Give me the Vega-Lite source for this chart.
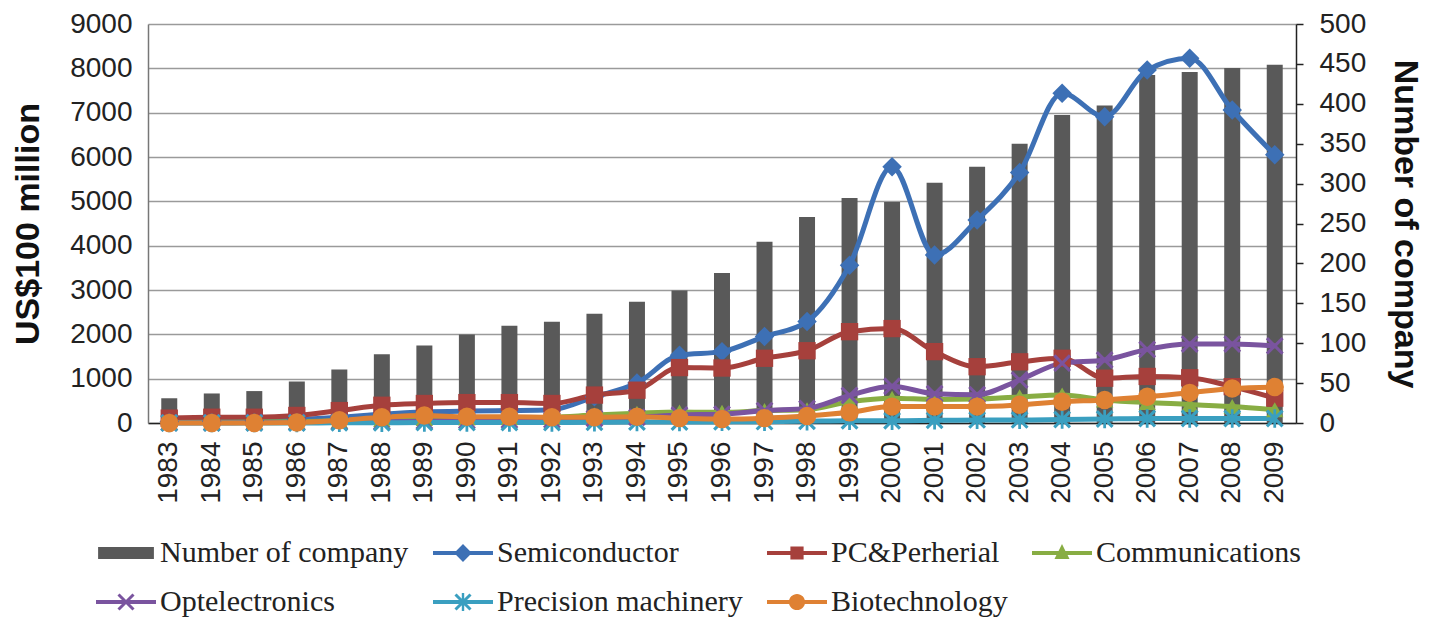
{
"$schema":"https://vega.github.io/schema/vega-lite/v6.json",
"width":1148,"height":399,"autosize":"none",
"padding":{"left":148,"top":24,"right":133,"bottom":194},
"background":"white",
"config":{
 "view":{"stroke":null},
 "axis":{"labelFont":"Liberation Sans","labelFontSize":28,"labelColor":"#222","titleFont":"Liberation Sans","titleFontSize":34,"titleFontWeight":"bold","titleColor":"#111","domainColor":"#666","domainWidth":1.5,"tickColor":"#222","tickWidth":1.5},
 "legend":{"orient":"none","legendX":-52,"legendY":499,"direction":"horizontal","columns":4,"columnPadding":24,"rowPadding":4,"padding":0,"labelFont":"Liberation Serif","labelFontSize":30,"labelColor":"#222","symbolSize":3600,"symbolStrokeWidth":0,"labelOffset":4,"labelLimit":0}
},
"datasets":{
 "company":[
  {"year":"1983","company":31},{"year":"1984","company":37},{"year":"1985","company":40},{"year":"1986","company":52},{"year":"1987","company":67},{"year":"1988","company":86},{"year":"1989","company":97},{"year":"1990","company":111},{"year":"1991","company":122},{"year":"1992","company":127},{"year":"1993","company":137},{"year":"1994","company":152},{"year":"1995","company":166},{"year":"1996","company":188},{"year":"1997","company":227},{"year":"1998","company":258},{"year":"1999","company":282},{"year":"2000","company":277},{"year":"2001","company":301},{"year":"2002","company":321},{"year":"2003","company":350},{"year":"2004","company":386},{"year":"2005","company":398},{"year":"2006","company":436},{"year":"2007","company":440},{"year":"2008","company":445},{"year":"2009","company":449}
 ],
 "sectors":[
  {"year":"1983","series":"Semiconductor","value":30},{"year":"1984","series":"Semiconductor","value":40},{"year":"1985","series":"Semiconductor","value":50},{"year":"1986","series":"Semiconductor","value":80},{"year":"1987","series":"Semiconductor","value":130},{"year":"1988","series":"Semiconductor","value":200},{"year":"1989","series":"Semiconductor","value":250},{"year":"1990","series":"Semiconductor","value":270},{"year":"1991","series":"Semiconductor","value":280},{"year":"1992","series":"Semiconductor","value":300},{"year":"1993","series":"Semiconductor","value":590},{"year":"1994","series":"Semiconductor","value":900},{"year":"1995","series":"Semiconductor","value":1530},{"year":"1996","series":"Semiconductor","value":1610},{"year":"1997","series":"Semiconductor","value":1950},{"year":"1998","series":"Semiconductor","value":2290},{"year":"1999","series":"Semiconductor","value":3560},{"year":"2000","series":"Semiconductor","value":5780},{"year":"2001","series":"Semiconductor","value":3790},{"year":"2002","series":"Semiconductor","value":4580},{"year":"2003","series":"Semiconductor","value":5650},{"year":"2004","series":"Semiconductor","value":7440},{"year":"2005","series":"Semiconductor","value":6910},{"year":"2006","series":"Semiconductor","value":7960},{"year":"2007","series":"Semiconductor","value":8230},{"year":"2008","series":"Semiconductor","value":7060},{"year":"2009","series":"Semiconductor","value":6050},
  {"year":"1983","series":"PC&Perherial","value":110},{"year":"1984","series":"PC&Perherial","value":130},{"year":"1985","series":"PC&Perherial","value":130},{"year":"1986","series":"PC&Perherial","value":170},{"year":"1987","series":"PC&Perherial","value":280},{"year":"1988","series":"PC&Perherial","value":400},{"year":"1989","series":"PC&Perherial","value":440},{"year":"1990","series":"PC&Perherial","value":460},{"year":"1991","series":"PC&Perherial","value":460},{"year":"1992","series":"PC&Perherial","value":440},{"year":"1993","series":"PC&Perherial","value":630},{"year":"1994","series":"PC&Perherial","value":740},{"year":"1995","series":"PC&Perherial","value":1250},{"year":"1996","series":"PC&Perherial","value":1240},{"year":"1997","series":"PC&Perherial","value":1460},{"year":"1998","series":"PC&Perherial","value":1630},{"year":"1999","series":"PC&Perherial","value":2060},{"year":"2000","series":"PC&Perherial","value":2130},{"year":"2001","series":"PC&Perherial","value":1610},{"year":"2002","series":"PC&Perherial","value":1270},{"year":"2003","series":"PC&Perherial","value":1380},{"year":"2004","series":"PC&Perherial","value":1460},{"year":"2005","series":"PC&Perherial","value":1010},{"year":"2006","series":"PC&Perherial","value":1050},{"year":"2007","series":"PC&Perherial","value":1020},{"year":"2008","series":"PC&Perherial","value":820},{"year":"2009","series":"PC&Perherial","value":560},
  {"year":"1983","series":"Communications","value":10},{"year":"1984","series":"Communications","value":15},{"year":"1985","series":"Communications","value":20},{"year":"1986","series":"Communications","value":30},{"year":"1987","series":"Communications","value":50},{"year":"1988","series":"Communications","value":80},{"year":"1989","series":"Communications","value":100},{"year":"1990","series":"Communications","value":110},{"year":"1991","series":"Communications","value":120},{"year":"1992","series":"Communications","value":130},{"year":"1993","series":"Communications","value":180},{"year":"1994","series":"Communications","value":220},{"year":"1995","series":"Communications","value":250},{"year":"1996","series":"Communications","value":240},{"year":"1997","series":"Communications","value":280},{"year":"1998","series":"Communications","value":300},{"year":"1999","series":"Communications","value":480},{"year":"2000","series":"Communications","value":560},{"year":"2001","series":"Communications","value":530},{"year":"2002","series":"Communications","value":540},{"year":"2003","series":"Communications","value":590},{"year":"2004","series":"Communications","value":630},{"year":"2005","series":"Communications","value":520},{"year":"2006","series":"Communications","value":460},{"year":"2007","series":"Communications","value":420},{"year":"2008","series":"Communications","value":370},{"year":"2009","series":"Communications","value":300},
  {"year":"1983","series":"Optelectronics","value":5},{"year":"1984","series":"Optelectronics","value":5},{"year":"1985","series":"Optelectronics","value":10},{"year":"1986","series":"Optelectronics","value":10},{"year":"1987","series":"Optelectronics","value":20},{"year":"1988","series":"Optelectronics","value":30},{"year":"1989","series":"Optelectronics","value":40},{"year":"1990","series":"Optelectronics","value":50},{"year":"1991","series":"Optelectronics","value":60},{"year":"1992","series":"Optelectronics","value":70},{"year":"1993","series":"Optelectronics","value":100},{"year":"1994","series":"Optelectronics","value":130},{"year":"1995","series":"Optelectronics","value":180},{"year":"1996","series":"Optelectronics","value":200},{"year":"1997","series":"Optelectronics","value":280},{"year":"1998","series":"Optelectronics","value":330},{"year":"1999","series":"Optelectronics","value":620},{"year":"2000","series":"Optelectronics","value":830},{"year":"2001","series":"Optelectronics","value":660},{"year":"2002","series":"Optelectronics","value":640},{"year":"2003","series":"Optelectronics","value":970},{"year":"2004","series":"Optelectronics","value":1350},{"year":"2005","series":"Optelectronics","value":1420},{"year":"2006","series":"Optelectronics","value":1660},{"year":"2007","series":"Optelectronics","value":1780},{"year":"2008","series":"Optelectronics","value":1780},{"year":"2009","series":"Optelectronics","value":1740},
  {"year":"1983","series":"Precision machinery","value":0},{"year":"1984","series":"Precision machinery","value":0},{"year":"1985","series":"Precision machinery","value":0},{"year":"1986","series":"Precision machinery","value":0},{"year":"1987","series":"Precision machinery","value":5},{"year":"1988","series":"Precision machinery","value":5},{"year":"1989","series":"Precision machinery","value":10},{"year":"1990","series":"Precision machinery","value":10},{"year":"1991","series":"Precision machinery","value":10},{"year":"1992","series":"Precision machinery","value":10},{"year":"1993","series":"Precision machinery","value":15},{"year":"1994","series":"Precision machinery","value":20},{"year":"1995","series":"Precision machinery","value":20},{"year":"1996","series":"Precision machinery","value":25},{"year":"1997","series":"Precision machinery","value":30},{"year":"1998","series":"Precision machinery","value":40},{"year":"1999","series":"Precision machinery","value":50},{"year":"2000","series":"Precision machinery","value":50},{"year":"2001","series":"Precision machinery","value":60},{"year":"2002","series":"Precision machinery","value":70},{"year":"2003","series":"Precision machinery","value":70},{"year":"2004","series":"Precision machinery","value":80},{"year":"2005","series":"Precision machinery","value":90},{"year":"2006","series":"Precision machinery","value":100},{"year":"2007","series":"Precision machinery","value":100},{"year":"2008","series":"Precision machinery","value":100},{"year":"2009","series":"Precision machinery","value":100},
  {"year":"1983","series":"Biotechnology","value":0},{"year":"1984","series":"Biotechnology","value":0},{"year":"1985","series":"Biotechnology","value":0},{"year":"1986","series":"Biotechnology","value":10},{"year":"1987","series":"Biotechnology","value":60},{"year":"1988","series":"Biotechnology","value":130},{"year":"1989","series":"Biotechnology","value":170},{"year":"1990","series":"Biotechnology","value":140},{"year":"1991","series":"Biotechnology","value":140},{"year":"1992","series":"Biotechnology","value":130},{"year":"1993","series":"Biotechnology","value":130},{"year":"1994","series":"Biotechnology","value":140},{"year":"1995","series":"Biotechnology","value":110},{"year":"1996","series":"Biotechnology","value":90},{"year":"1997","series":"Biotechnology","value":110},{"year":"1998","series":"Biotechnology","value":160},{"year":"1999","series":"Biotechnology","value":240},{"year":"2000","series":"Biotechnology","value":370},{"year":"2001","series":"Biotechnology","value":370},{"year":"2002","series":"Biotechnology","value":370},{"year":"2003","series":"Biotechnology","value":410},{"year":"2004","series":"Biotechnology","value":480},{"year":"2005","series":"Biotechnology","value":520},{"year":"2006","series":"Biotechnology","value":590},{"year":"2007","series":"Biotechnology","value":680},{"year":"2008","series":"Biotechnology","value":780},{"year":"2009","series":"Biotechnology","value":810}
 ]
},
"layer":[
 {"data":{"name":"company"},
  "mark":{"type":"bar","color":"#595959"},
  "encoding":{
   "x":{"field":"year","type":"nominal","sort":null,"scale":{"type":"band","paddingInner":0.624,"paddingOuter":0.312},"axis":{"title":null,"labelAngle":-90,"ticks":false,"tickSize":0,"labelPadding":18,"domainColor":"#222"}},
   "y":{"field":"company","type":"quantitative","scale":{"domain":[0,500],"nice":false,"zero":true},"axis":{"orient":"right","title":"Number of company","values":[0,50,100,150,200,250,300,350,400,450,500],"format":"d","grid":false,"tickSize":7,"labelPadding":16,"titlePadding":22,"domainColor":"#222"}}
  }},
 {"data":{"name":"sectors"},
  "encoding":{
   "x":{"field":"year","type":"nominal","sort":null,"scale":{"type":"band","paddingInner":0.624,"paddingOuter":0.312},"axis":{"title":null,"labelAngle":-90,"ticks":false,"tickSize":0,"labelPadding":18,"domainColor":"#222"}},
   "y":{"field":"value","type":"quantitative","scale":{"domain":[0,9000],"nice":false},"axis":{"orient":"left","title":"US$100 million","values":[0,1000,2000,3000,4000,5000,6000,7000,8000,9000],"format":"d","grid":true,"gridColor":"#9a9a9a","gridWidth":1.5,"ticks":false,"tickSize":0,"labelPadding":16,"titlePadding":24,"domainColor":"#777"}}
  },
  "layer":[
   {"mark":{"type":"line","interpolate":"monotone","strokeWidth":5,"strokeJoin":"round","strokeCap":"round"},
    "encoding":{
     "color":{"field":"series","type":"nominal","scale":{"domain":["Semiconductor","PC&Perherial","Communications","Optelectronics","Precision machinery","Biotechnology"],"range":["#3d70b5","#a6403c","#88ad43","#7a549f","#3a9fc0","#df8133"]},"legend":null}
    }},
   {"transform":[{"filter":"datum.series === 'Semiconductor'"}],"mark":{"type":"point","filled":true,"opacity":1,"size":380,"strokeWidth":0,"shape":"diamond","color":"#3d70b5"}},
   {"transform":[{"filter":"datum.series === 'PC&Perherial'"}],"mark":{"type":"point","filled":true,"opacity":1,"size":300,"strokeWidth":0,"shape":"square","color":"#a6403c"}},
   {"transform":[{"filter":"datum.series === 'Communications'"}],"mark":{"type":"point","filled":true,"opacity":1,"size":300,"strokeWidth":0,"shape":"triangle-up","color":"#88ad43"}},
   {"transform":[{"filter":"datum.series === 'Optelectronics'"}],"mark":{"type":"point","filled":true,"opacity":1,"size":340,"strokeWidth":0,"shape":"M-0.73,-0.97L0.97,0.73L0.73,0.97L-0.97,-0.73ZM0.73,-0.97L0.97,-0.73L-0.73,0.97L-0.97,0.73Z","color":"#7a549f"}},
   {"transform":[{"filter":"datum.series === 'Precision machinery'"}],"mark":{"type":"point","filled":true,"opacity":1,"size":340,"strokeWidth":0,"shape":"M-0.73,-0.97L0.97,0.73L0.73,0.97L-0.97,-0.73ZM0.73,-0.97L0.97,-0.73L-0.73,0.97L-0.97,0.73ZM-0.15,-1H0.15V1H-0.15Z","color":"#3a9fc0"}},
   {"transform":[{"filter":"datum.series === 'Biotechnology'"}],"mark":{"type":"point","filled":true,"opacity":1,"size":340,"strokeWidth":0,"shape":"circle","color":"#df8133"}},
   {"transform":[{"filter":"false"}],
    "mark":{"type":"point","filled":true,"opacity":1},
    "encoding":{
     "fill":{"field":"series","type":"nominal","title":null,"scale":{"domain":["Number of company","Semiconductor","PC&Perherial","Communications","Optelectronics","Precision machinery","Biotechnology"],"range":["#595959","#3d70b5","#a6403c","#88ad43","#7a549f","#3a9fc0","#df8133"]},"legend":{"title":null}},
     "shape":{"field":"series","type":"nominal","title":null,"scale":{"domain":["Number of company","Semiconductor","PC&Perherial","Communications","Optelectronics","Precision machinery","Biotechnology"],"range":["M-0.93,-0.2H0.93V0.2H-0.93Z","M-1,-0.07H-0.23L0,-0.3L0.23,-0.07H1V0.07H0.23L0,0.3L-0.23,0.07H-1Z","M-1,-0.07H-0.22V-0.22H0.22V-0.07H1V0.07H0.22V0.22H-0.22V0.07H-1Z","M-1,-0.07H-0.115L0,-0.3L0.115,-0.07H1V0.07H0.185L0.25,0.2H-0.25L-0.185,0.07H-1Z","M-1,-0.07H1V0.07H-1ZM-0.215,-0.285L0.285,0.215L0.215,0.285L-0.285,-0.215ZM0.215,-0.285L0.285,-0.215L-0.215,0.285L-0.285,0.215Z","M-1,-0.07H1V0.07H-1ZM-0.215,-0.285L0.285,0.215L0.215,0.285L-0.285,-0.215ZM0.215,-0.285L0.285,-0.215L-0.215,0.285L-0.285,0.215ZM-0.04,-0.3H0.04V0.3H-0.04Z","M-1,-0.07H1V0.07H-1ZM-0.27,0A0.27,0.27,0,1,1,0.27,0A0.27,0.27,0,1,1,-0.27,0Z"]},"legend":{"title":null}}
    }}
  ]
 }
],
"resolve":{"scale":{"y":"independent"}}
}
